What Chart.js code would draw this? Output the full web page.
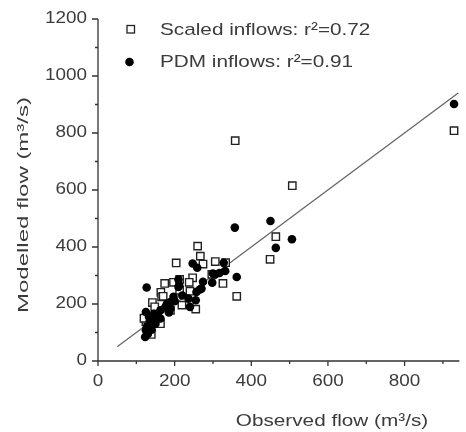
<!DOCTYPE html>
<html>
<head>
<meta charset="utf-8">
<script src="https://cdn.jsdelivr.net/npm/chart.js@4"></script>
<style>
  html, body { margin: 0; padding: 0; background: #fff; }
  #wrap { width: 466px; height: 432px; position: relative; }
</style>
</head>
<body>
<div id="wrap"><canvas id="flow-canvas" width="466" height="432"></canvas></div>
<script>
// scaled inflows (open squares)
var scaledX = [929, 507, 358, 464, 449, 362, 260, 267, 204, 274, 306, 333, 297, 326, 247, 238, 197, 174, 213, 164, 166, 240, 213, 142, 255, 219, 189, 163, 139, 125, 170, 148, 130, 120];
var scaledY = [808, 615, 773, 436, 357, 227, 403, 368, 344, 340, 349, 345, 304, 272, 292, 276, 276, 272, 286, 241, 225, 245, 248, 205, 182, 196, 178, 131, 93, 137, 227, 190, 120, 150];

// PDM inflows (filled circles)
var pdmX = [929, 506, 464, 450, 357, 362, 332, 328, 306, 298, 274, 266, 259, 247, 210, 210, 236, 255, 240, 197, 189, 176, 163, 146, 133, 125, 125, 123, 138, 150, 163, 189, 127, 180, 317, 300, 270, 257, 212, 135, 128, 145, 155, 200, 220, 185, 130, 140];
var pdmY = [902, 427, 397, 491, 468, 295, 316, 345, 304, 275, 278, 251, 327, 342, 286, 260, 219, 213, 190, 225, 207, 190, 178, 166, 155, 172, 108, 84, 125, 131, 149, 184, 258, 201, 309, 307, 254, 242, 266, 140, 120, 150, 160, 210, 230, 170, 95, 110];

// 1:1 line
var fitX = [50, 940];
var fitY = [50, 940];

var xTicks = [0, 100, 200, 300, 400, 500, 600, 700, 800, 900];
var yTicks = [0, 100, 200, 300, 400, 500, 600, 700, 800, 900, 1000, 1100, 1200];

var legendLabels = ['Scaled inflows: r\u00B2=0.72', 'PDM inflows: r\u00B2=0.91'];
var xTitle = 'Observed flow (m\u00B3/s)';
var yTitle = 'Modelled flow (m\u00B3/s)';

var FONT = '"Liberation Sans", Arial, sans-serif';
var TEXT = '#3c3c3c';

function toPoints(xs, ys) {
    return xs.map(function (x, i) { return { x: x, y: ys[i] }; });
}

// the original type is wide, so stretch it along the baseline
function stretchText(ctx, text, x, y, sx, align) {
    var w = ctx.measureText(text).width * sx;
    var left = align === 'right' ? x - w : align === 'center' ? x - w / 2 : x;
    ctx.save();
    ctx.translate(left, y);
    ctx.scale(sx, 1);
    ctx.textAlign = 'left';
    ctx.fillText(text, 0, 0);
    ctx.restore();
}

var decorPlugin = {
    id: 'decor',
    afterDraw: function (chart) {
        var ctx = chart.ctx;
        var area = chart.chartArea;
        var xs = chart.scales.x, ys = chart.scales.y;
        ctx.save();
        ctx.strokeStyle = '#333';
        ctx.lineWidth = 1.3;
        // axis lines
        ctx.beginPath();
        ctx.moveTo(area.left, ys.getPixelForValue(1200));
        ctx.lineTo(area.left, area.bottom);
        ctx.lineTo(area.right, area.bottom);
        ctx.stroke();
        // tick marks
        ctx.beginPath();
        xTicks.forEach(function (v) {
            var px = xs.getPixelForValue(v);
            var len = v % 200 === 0 ? 5 : 3;
            ctx.moveTo(px, area.bottom);
            ctx.lineTo(px, area.bottom + len);
        });
        yTicks.forEach(function (v) {
            var py = ys.getPixelForValue(v);
            var len = v % 200 === 0 ? 6 : 3;
            ctx.moveTo(area.left, py);
            ctx.lineTo(area.left - len, py);
        });
        ctx.stroke();

        ctx.fillStyle = TEXT;
        ctx.textBaseline = 'middle';
        // tick labels
        ctx.font = '16px ' + FONT;
        xTicks.forEach(function (v) {
            if (v % 200 !== 0 || v > 800) return;
            stretchText(ctx, String(v), xs.getPixelForValue(v), 382, 1.18, 'center');
        });
        yTicks.forEach(function (v) {
            if (v % 200 !== 0) return;
            stretchText(ctx, String(v), 87, ys.getPixelForValue(v), 1.18, 'right');
        });

        // legend
        ctx.lineWidth = 1.3;
        ctx.strokeStyle = '#222';
        ctx.fillStyle = '#fff';
        ctx.fillRect(127, 25.5, 7.5, 7.5);
        ctx.strokeRect(127, 25.5, 7.5, 7.5);
        ctx.fillStyle = '#000';
        ctx.beginPath();
        ctx.arc(129.5, 62, 4.3, 0, Math.PI * 2);
        ctx.fill();
        ctx.fillStyle = TEXT;
        ctx.font = '17px ' + FONT;
        stretchText(ctx, legendLabels[0], 160, 30, 1.22, 'left');
        stretchText(ctx, legendLabels[1], 160, 62, 1.22, 'left');

        // axis titles
        stretchText(ctx, xTitle, 332, 421, 1.22, 'center');
        ctx.font = '15.5px ' + FONT;
        ctx.translate(24, 205);
        ctx.rotate(-Math.PI / 2);
        var sy = 216 / ctx.measureText(yTitle).width;
        stretchText(ctx, yTitle, 0, 0, sy, 'center');
        ctx.restore();
    }
};

var flowCanvas = document.getElementById('flow-canvas').getContext('2d');

var flowChart = new Chart(flowCanvas, {
    type: 'scatter',
    data: {
        datasets: [
            {
                label: legendLabels[1],
                data: toPoints(pdmX, pdmY),
                pointStyle: 'circle',
                pointRadius: 4.3,
                backgroundColor: '#000',
                borderColor: '#000',
                borderWidth: 0
            },
            {
                label: legendLabels[0],
                data: toPoints(scaledX, scaledY),
                pointStyle: 'rect',
                pointRadius: 5.2,
                backgroundColor: '#fff',
                borderColor: '#222',
                borderWidth: 1.4
            },
            {
                type: 'line',
                label: '1:1',
                data: toPoints(fitX, fitY),
                borderColor: '#666',
                borderWidth: 1.3,
                pointRadius: 0,
                fill: false
            }
        ]
    },
    options: {
        responsive: false,
        animation: false,
        layout: { padding: { top: 19, right: 0, left: 0, bottom: 0 } },
        plugins: {
            legend: { display: false },
            tooltip: { enabled: false }
        },
        scales: {
            x: {
                type: 'linear',
                min: 0,
                max: 943,
                afterBuildTicks: function (scale) {
                    scale.ticks = xTicks.map(function (v) { return { value: v }; });
                },
                afterFit: function (scale) { scale.height = 71; },
                border: { display: false },
                grid: { display: false, drawTicks: false },
                ticks: { display: false }
            },
            y: {
                type: 'linear',
                min: 0,
                max: 1200,
                afterBuildTicks: function (scale) {
                    scale.ticks = yTicks.map(function (v) { return { value: v }; });
                },
                afterFit: function (scale) { scale.width = 98; },
                border: { display: false },
                grid: { display: false, drawTicks: false },
                ticks: { display: false }
            }
        }
    },
    plugins: [decorPlugin]
});
</script>
</body>
</html>
